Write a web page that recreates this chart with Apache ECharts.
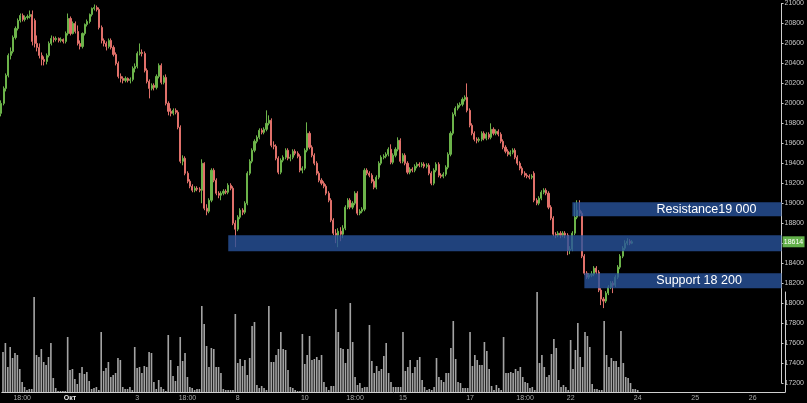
<!DOCTYPE html>
<html><head><meta charset="utf-8">
<script src="https://cdn.jsdelivr.net/npm/echarts@6/dist/echarts.min.js"></script>
<style>html,body{margin:0;padding:0;background:#000;}#c{width:807px;height:403px;}</style>
</head><body><div id="c"></div>
<script>
// [open, close, low, high] per hourly bar
const candles = [
// Sep 27
[19900,20000,19870,20030],[20000,20150,19980,20170],[20150,20280,20120,20300],[20280,20480,20260,20500],[20480,20520,20440,20560],[20520,20660,20500,20680],[20660,20750,20640,20770],[20750,20830,20730,20850],[20830,20880,20810,20900],[20880,20840,20820,20900],[20840,20860,20820,20880],[20860,20870,20840,20890],[20870,20890,20850,20930],
// Sep 30
[20890,20620,20580,20930],[20830,20600,20560,20850],[20600,20560,20520,20680],[20560,20480,20450,20600],[20480,20440,20380,20510],[20440,20420,20380,20470],[20420,20480,20390,20500],[20480,20600,20460,20620],[20600,20650,20580,20680],[20650,20640,20610,20670],[20640,20650,20620,20670],[20650,20630,20610,20660],[20630,20640,20610,20660],[20640,20620,20600,20650],
// Oct 1
[20620,20700,20600,20720],[20700,20850,20680,20900],[20850,20700,20680,20870],[20700,20800,20690,20820],[20800,20720,20700,20820],[20720,20600,20580,20780],[20600,20570,20540,20630],[20570,20700,20550,20710],[20700,20790,20680,20800],[20790,20820,20770,20840],[20820,20890,20800,20900],[20890,20950,20870,20960],[20950,20960,20930,20990],[20960,20940,20920,20980],
// Oct 2
[20940,20760,20740,20960],[20760,20630,20600,20780],[20630,20600,20570,20650],[20600,20570,20530,20620],[20570,20630,20550,20650],[20630,20560,20540,20650],[20560,20490,20470,20580],[20490,20400,20380,20510],[20400,20270,20250,20420],[20270,20250,20210,20300],[20250,20230,20200,20270],[20230,20250,20210,20270],[20250,20230,20210,20260],[20230,20240,20200,20260],
// Oct 3
[20240,20350,20220,20370],[20350,20370,20310,20400],[20370,20500,20350,20520],[20500,20510,20480,20600],[20510,20500,20470,20540],[20500,20330,20310,20520],[20330,20220,20200,20350],[20220,20150,20050,20240],[20150,20180,20130,20200],[20180,20160,20130,20200],[20160,20270,20140,20290],[20270,20380,20250,20400],[20380,20210,20190,20400],[20210,20260,20190,20280],
// Oct 4
[20260,20000,19980,20290],[20000,19920,19880,20020],[19920,19900,19870,19950],[19900,19930,19880,19950],[19930,19910,19890,19950],[19910,19760,19740,19930],[19760,19420,19400,19780],[19420,19450,19380,19480],[19450,19300,19280,19470],[19300,19220,19200,19320],[19220,19170,19150,19240],[19170,19130,19110,19190],[19130,19150,19110,19170],[19150,19140,19120,19170],
// Oct 7
[19140,19130,19110,19160],[19130,19400,19000,19440],[19400,18950,18930,19410],[18950,18920,18880,18990],[18920,19030,18900,19050],[19030,19330,19010,19350],[19330,19230,19210,19350],[19230,19100,19080,19250],[19100,19080,19050,19120],[19080,19100,19030,19120],[19100,19120,19080,19140],[19120,19110,19090,19140],[19110,19180,19090,19200],
// Oct 8
[19180,19150,19130,19200],[19150,18800,18780,19170],[18800,18740,18560,18830],[18740,18860,18720,18880],[18860,18930,18840,18950],[18930,18910,18880,18950],[18910,19000,18890,19020],[19000,19300,18980,19320],[19300,19420,19280,19440],[19420,19530,19400,19550],[19530,19620,19510,19640],[19620,19660,19600,19680],[19660,19730,19640,19750],[19730,19710,19690,19750],[19710,19740,19690,19760],
// Oct 9
[19740,19800,19720,19930],[19800,19830,19780,19880],[19830,19580,19560,19850],[19580,19570,19540,19620],[19570,19450,19430,19590],[19450,19310,19290,19470],[19310,19430,19290,19450],[19430,19460,19410,19480],[19460,19530,19440,19550],[19530,19450,19430,19550],[19450,19460,19420,19490],[19460,19520,19440,19540],[19520,19500,19480,19540],[19500,19470,19450,19520],
// Oct 10
[19470,19330,19310,19490],[19330,19350,19300,19370],[19350,19530,19330,19550],[19530,19700,19510,19810],[19700,19560,19540,19720],[19560,19480,19460,19580],[19480,19400,19380,19500],[19400,19300,19280,19420],[19300,19230,19210,19320],[19230,19200,19180,19250],[19200,19170,19150,19220],[19170,19100,19080,19190],[19100,19030,19010,19120],[19030,18830,18810,19050],
// Oct 11
[18830,18700,18680,18850],[18700,18680,18600,18740],[18680,18720,18560,18750],[18720,18690,18620,18760],[18690,18750,18650,18780],[18750,18960,18730,18980],[18960,19030,18940,19050],[19030,18960,18940,19050],[18960,19000,18940,19020],[19000,19100,18980,19120],[19100,18900,18880,19120],[18900,18920,18880,18940],[18920,18940,18900,18960],[18940,19330,18920,19350],
// Oct 14
[19330,19300,19280,19350],[19300,19280,19260,19320],[19280,19220,19200,19300],[19220,19160,19140,19240],[19160,19260,19140,19280],[19260,19400,19240,19420],[19400,19460,19380,19480],[19460,19470,19440,19490],[19470,19490,19450,19510],[19490,19540,19470,19560],[19540,19410,19390,19590],[19410,19480,19390,19500],[19480,19540,19460,19560],[19540,19630,19520,19660],
// Oct 15
[19630,19420,19400,19650],[19420,19480,19400,19500],[19480,19400,19380,19500],[19400,19310,19290,19420],[19310,19340,19290,19360],[19340,19330,19310,19360],[19330,19370,19310,19390],[19370,19390,19350,19410],[19390,19380,19360,19410],[19380,19390,19360,19410],[19390,19370,19350,19410],[19370,19380,19350,19400],[19380,19300,19280,19400],[19300,19200,19180,19320],
// Oct 16
[19200,19330,19180,19350],[19330,19390,19310,19410],[19390,19280,19260,19410],[19280,19270,19250,19300],[19270,19290,19250,19310],[19290,19360,19270,19380],[19360,19490,19340,19510],[19490,19700,19470,19720],[19700,19890,19680,19910],[19890,19950,19870,19970],[19950,19980,19930,20000],[19980,19990,19960,20010],[19990,20040,19970,20060],[20040,20060,20020,20080],
// Oct 17
[20060,19930,19910,20200],[19930,19780,19760,19950],[19780,19700,19680,19800],[19700,19640,19620,19720],[19640,19630,19600,19660],[19630,19640,19610,19660],[19640,19700,19620,19720],[19700,19650,19630,19720],[19650,19690,19630,19710],[19690,19660,19640,19710],[19660,19740,19640,19800],[19740,19700,19680,19760],[19700,19720,19680,19740],[19720,19690,19670,19740],
// Oct 18
[19690,19620,19600,19710],[19620,19560,19540,19640],[19560,19520,19500,19580],[19520,19490,19470,19540],[19490,19510,19470,19530],[19510,19530,19490,19550],[19530,19460,19440,19550],[19460,19400,19380,19480],[19400,19350,19330,19420],[19350,19300,19280,19370],[19300,19280,19260,19320],[19280,19270,19250,19300],[19270,19260,19240,19290],[19260,19270,19240,19290],
// Oct 21
[19300,19030,19010,19320],[19030,19000,18980,19050],[19000,19050,18980,19070],[19050,19110,19030,19130],[19110,19130,19090,19150],[19130,19100,19080,19150],[19100,18960,18940,19120],[18960,18850,18830,18980],[18850,18690,18670,18870],[18690,18680,18650,18710],[18680,18700,18660,18720],[18700,18680,18650,18720],[18680,18700,18660,18720],[18700,18680,18650,18720],
// Oct 22
[18680,18530,18480,18700],[18530,18540,18490,18570],[18540,18700,18520,18720],[18700,18860,18680,19000],[18860,18930,18840,19030],[18930,18900,18870,19030],[18900,18470,18450,18920],[18470,18300,18280,18490],[18300,18260,18240,18320],[18260,18280,18240,18300],[18280,18290,18260,18320],[18290,18350,18270,18370],[18350,18310,18290,18370],[18310,18130,18110,18330],
// Oct 23
[18130,18040,17980,18150],[18040,18020,17950,18060],[18020,18100,18000,18120],[18100,18160,18080,18180],[18160,18200,18140,18220],[18200,18180,18100,18220],[18180,18260,18160,18280],[18260,18360,18240,18380],[18360,18470,18340,18490],[18470,18550,18450,18570],[18550,18600,18530,18630],[18600,18620,18580,18650],[18620,18600,18580,18640],[18600,18614,18590,18630]
];

const volumes = [
40,49,25,45,34,39,37,23,10,5,2,3,3,
95,37,35,43,30,27,35,49,14,4,1,1,1,1,
55,22,23,13,8,19,25,18,20,11,3,4,5,2,
60,21,24,30,15,17,19,34,32,5,3,3,5,2,
45,24,25,19,26,25,40,39,10,3,12,5,3,1,
57,32,16,11,26,55,31,39,15,5,4,2,3,3,
86,68,46,25,44,43,25,25,19,3,2,2,2,2,
78,29,33,26,32,17,34,66,70,7,4,6,4,2,
86,30,30,37,43,60,43,42,22,5,4,2,1,1,
58,28,37,56,32,33,35,32,37,10,5,2,6,6,
83,60,44,43,29,43,89,50,15,7,9,4,5,5,
67,31,19,26,21,23,36,49,19,10,5,5,5,5,
60,21,25,32,19,25,32,35,12,5,2,3,2,5,
34,15,12,10,19,19,44,71,33,10,9,4,4,4,
60,26,37,32,27,27,50,41,23,6,2,7,4,2,
55,19,19,20,19,23,21,25,15,10,9,4,5,2,
100,29,37,25,15,17,38,53,44,12,5,7,5,2,
52,23,42,69,35,25,60,56,45,8,3,3,2,2,
71,37,25,34,31,31,25,61,29,15,14,9,3,3,2
];

const xTickLabels = [[8,'18:00'],[28,'Окт'],[56,'3'],[77,'18:00'],[98,'8'],[126,'10'],[147,'18:00'],[167,'15'],[195,'17'],[218,'18:00'],[237,'22'],[265,'24'],[289,'25'],[313,'26']];
const boldLabels = ['Окт'];

const bandLow   = [18870, 18520, 18150];
const bandHigh  = [19010, 18680, 18300];
const bandStart = [239, 95, 244];
const bandText  = ['Resistance19 000', '', 'Support 18 200'];
const bandTextOffset = [84, 0, 72];

const lastPrice = 18614;
const CAT_COUNT = 327;

const cats = [];
for (let i = 0; i < CAT_COUNT; i++) cats.push(String(i));
const labelMap = {};
xTickLabels.forEach(function (p) { labelMap[p[0]] = p[1]; });
const bandRows = bandLow.map(function (lo, k) { return [bandStart[k], bandHigh[k], lo, k]; });

const chart = echarts.init(document.getElementById('c'), null, { renderer: 'canvas' });
const FONT = 'Liberation Sans, Arial, sans-serif';
chart.setOption({
  backgroundColor: '#000',
  animation: false,
  textStyle: { fontFamily: FONT },
  grid: [
    { left: -2.5, right: 22, top: 3, bottom: 20 },
    { left: -2.5, right: 22, top: 292, bottom: 11 }
  ],
  xAxis: [
    { type: 'category', data: cats, gridIndex: 0, show: false },
    { type: 'category', data: cats, gridIndex: 1,
      axisLine: { show: true, lineStyle: { color: '#cfcfcf', width: 1 } },
      axisTick: { show: false },
      splitLine: { show: false },
      axisLabel: {
        interval: 0, color: '#a8a8a8', fontSize: 7, margin: 3, fontFamily: FONT,
        formatter: function (v, i) {
          const t = labelMap[i];
          if (!t) return '';
          return boldLabels.indexOf(t) >= 0 ? '{b|' + t + '}' : t;
        },
        rich: { b: { fontWeight: 'bold', color: '#e8e8e8', fontSize: 7, fontFamily: FONT } }
      }
    }
  ],
  yAxis: [
    { type: 'value', gridIndex: 0, position: 'right', min: 17200, max: 21000, interval: 200,
      splitLine: { show: false },
      axisLine: { show: true, lineStyle: { color: '#cfcfcf', width: 1 } },
      axisTick: { show: true, length: 2, lineStyle: { color: '#cfcfcf' } },
      axisLabel: { color: '#c8c8c8', fontSize: 7, margin: 3, fontFamily: FONT,
        formatter: function (v) { return String(v); } }
    },
    { type: 'value', gridIndex: 1, position: 'right', min: 0, max: 100,
      splitLine: { show: false },
      axisLine: { show: true, lineStyle: { color: '#cfcfcf', width: 1 } },
      axisTick: { show: false },
      axisLabel: { show: false }
    }
  ],
  series: [
    { type: 'bar', xAxisIndex: 1, yAxisIndex: 1, data: volumes, barWidth: '68%',
      itemStyle: { color: '#a3a3a3' }, silent: true },
    { type: 'candlestick', xAxisIndex: 0, yAxisIndex: 0, data: candles, barWidth: 1.6,
      itemStyle: { color: '#6cb34a', color0: '#e0706a', borderColor: '#6cb34a', borderColor0: '#e0706a', borderWidth: 1 }
    },
    { type: 'custom', xAxisIndex: 0, yAxisIndex: 0, z: 10, silent: true, clip: false,
      encode: { x: 0, y: [1, 2] },
      data: bandRows,
      renderItem: function (params, api) {
        const k = api.value(3);
        const p0 = api.coord([api.value(0), api.value(1)]);
        const pEnd = api.coord([CAT_COUNT - 1, api.value(2)]);
        const right = pEnd[0] + api.size([1, 0])[0] / 2;
        const children = [{
          type: 'rect',
          shape: { x: p0[0], y: p0[1], width: right - p0[0], height: pEnd[1] - p0[1] },
          style: { fill: 'rgba(40,82,155,0.8)' }
        }];
        if (bandText[k]) {
          children.push({
            type: 'text',
            style: { text: bandText[k], x: p0[0] + bandTextOffset[k], y: (p0[1] + pEnd[1]) / 2,
              fill: '#ffffff', fontSize: 12.5, fontFamily: FONT, verticalAlign: 'middle', align: 'left' }
          });
        }
        return { type: 'group', children: children };
      }
    },
    { type: 'custom', xAxisIndex: 0, yAxisIndex: 0, z: 12, silent: true, clip: false,
      encode: { x: 0, y: 1 },
      data: [[CAT_COUNT - 1, lastPrice]],
      renderItem: function (params, api) {
        const p = api.coord([api.value(0), api.value(1)]);
        const x0 = p[0] + api.size([1, 0])[0] / 2 + 1;
        return { type: 'group', children: [
          { type: 'rect', shape: { x: x0, y: p[1] - 5.5, width: 22, height: 11 }, style: { fill: '#62b04a' } },
          { type: 'text', style: { text: String(api.value(1)), x: x0 + 11, y: p[1], align: 'center', verticalAlign: 'middle',
              fill: '#ffffff', fontSize: 7, fontFamily: FONT } }
        ] };
      }
    }
  ]
});
</script>
</body></html>
